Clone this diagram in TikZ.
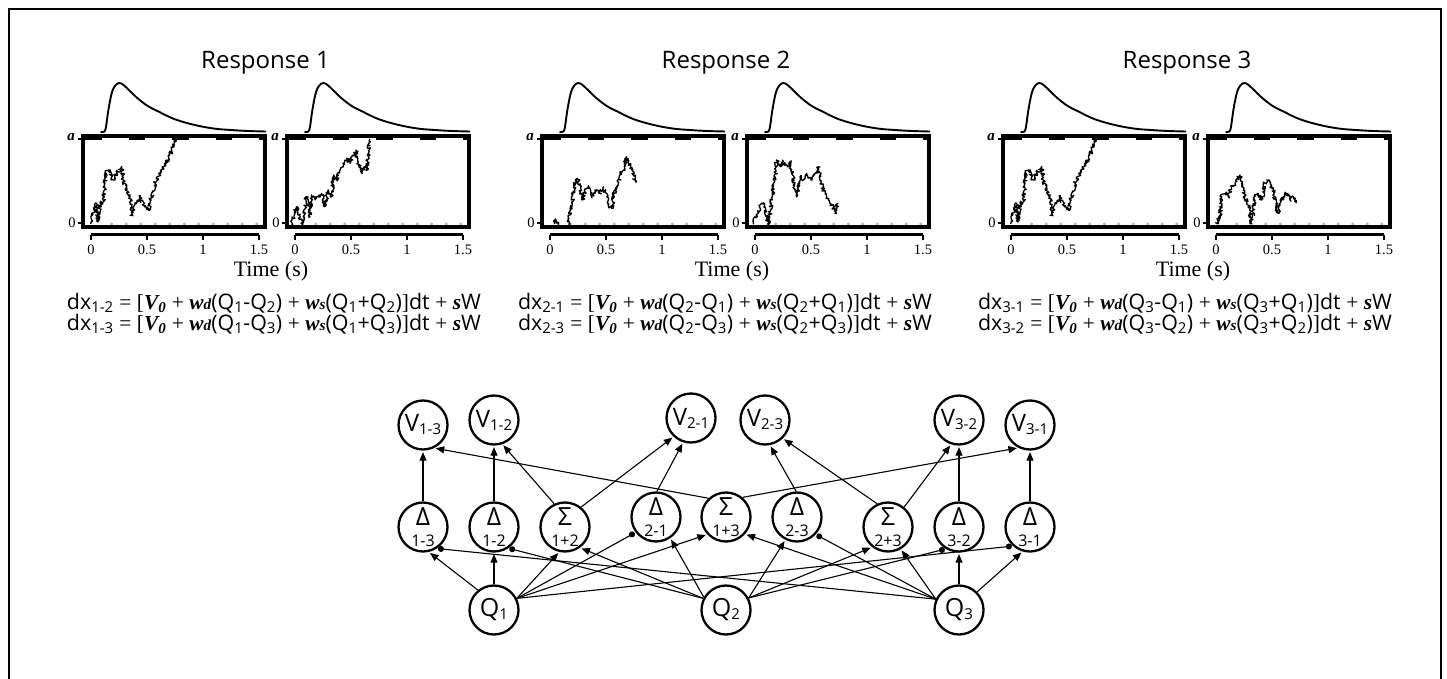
\documentclass[tikz,border=0pt]{standalone}
\usepackage{fontspec}
\usepackage{graphicx}
\setmainfont{Liberation Serif}
\setsansfont{Open Sans}
\usetikzlibrary{arrows.meta,decorations.pathmorphing}

\newcommand\lsub[1]{\textsubscript{#1}}
\newcommand\bi[1]{{\rmfamily\bfseries\itshape #1}}
\newcommand\rs[1]{{\rmfamily #1}}
\newcommand\eqn[2]{\resizebox{414pt}{!}{\sffamily\fontsize{21}{21}\selectfont dx\lsub{#1-#2} \rs{=} \rs{[}\bi{V\lsub{0}} \rs{+} \bi{w{\fontsize{15}{15}\selectfont d}}(Q\lsub{#1}-Q\lsub{#2}) \rs{+} \bi{w{\fontsize{15}{15}\selectfont s}}(Q\lsub{#1}+Q\lsub{#2})\rs{]}dt \rs{+} \bi{s}W}}
\newcommand\vlab[1]{{\fontsize{24}{24}\selectfont V}\raisebox{-3pt}{\fontsize{15}{15}\selectfont #1}}
\newcommand\qlab[1]{{\fontsize{25}{25}\selectfont Q}\raisebox{-2.5pt}{\fontsize{15}{15}\selectfont #1}}
\newcommand\dlab[2]{\vbox{\offinterlineskip\halign{\hfil##\hfil\cr{\fontsize{25}{25}\selectfont #1}\cr\noalign{\kern 10pt}{\fontsize{16}{16}\selectfont #2}\cr}}}

\tikzset{
 box/.style={line width=3.2pt},
 bnd/.style={line width=2.7pt, dash pattern=on 16.7pt off 26.8pt},
 drift/.style={line width=1.9pt, line join=round},
 trace/.style={line width=1.3pt, line join=round, decorate, decoration={random steps,segment length=0.9pt,amplitude=1.9pt}},
 ax/.style={line width=2.4pt},
 tick/.style={font=\rmfamily\fontsize{14.5}{14.5}\selectfont, inner sep=0pt},
 nd/.style={circle, draw, line width=2.3pt, minimum size=49pt, inner sep=0pt, font=\sffamily},
 exc/.style={line width=1.1pt, -{Triangle[length=8.5pt,width=7pt]}, shorten >=1.5pt},
 inh/.style={line width=1.1pt, -{Circle[length=6pt]}, shorten >=1pt},
 eq/.style={inner sep=0pt, anchor=base},
 resp/.style={font=\sffamily\fontsize{24}{24}\selectfont, inner sep=0pt},
 tlab/.style={font=\rmfamily\fontsize{22}{22}\selectfont, inner sep=0pt},
}

% #1 x0, #2 name prefix, #3 trace drawing code
\newcommand\panel[3]{%
\begin{scope}[shift={(#1,135)}]
\draw[drift] plot[smooth,tension=0.6] coordinates {(17.5,-3) (21.4,-3.5) (23.1,-8.9) (25.4,-25.1) (28.7,-41.7) (32,-49.1) (36.3,-52) (41.6,-49.1) (52.8,-38.3) (64,-29.5) (75.2,-23.6) (92,-15.7) (112.2,-9.9) (131.2,-6.4) (148,-5) (164.8,-4) (183,-3.5)};
\foreach \k in {0,...,10} \fill[black!30] ({28.7+14.5*\k},89) circle[radius=1.7pt];
\draw[bnd] (2,4) -- (181,4);
#3
\draw[box] (0,1) rectangle (182,92);
\draw[line width=1.4pt] (-5,4) -- (0,4) (-5,88) -- (0,88);
\node[tick, font=\rmfamily\bfseries\itshape\fontsize{15}{15}\selectfont] (#2a) at (-12,2.5) {a};
\node[tick] (#2z) at (-11,87.5) {0};
\draw[ax] (8,99.5) -- (176,99.5);
\foreach \tx in {8,64,120,176} \draw[line width=1.6pt] (\tx,99.5) -- (\tx,104.5);
\node[tick] (#2t0) at (8,115) {0};
\node[tick] (#2t1) at (64,115) {0.5};
\node[tick] (#2t2) at (120,115) {1};
\node[tick] (#2t3) at (176,115) {1.5};
\end{scope}}

\begin{document}
\begin{tikzpicture}[x=1pt,y=-1pt]
\useasboundingbox (0,0) rectangle (1447,679);
\draw[line width=1.5pt] (9,679) -- (9,9) -- (1441,9) -- (1441,679);

% titles
\node[resp] (r1) at (265.5,63) {Response 1};
\node[resp] (r2) at (726,63) {Response 2};
\node[resp] (r3) at (1187,63) {Response 3};

% panels
\panel{83}{pa}{\pgfmathsetseed{11}\draw[trace] plot coordinates {(7.7,89) (10.3,78) (13,68) (14.7,87) (17,68) (20.3,67) (22.7,38) (25.3,35) (30.3,45) (33.7,38) (38.7,32) (40.3,45) (43.7,55) (47,62) (48.7,80) (52,68) (57,62) (62,72) (65.3,75) (67,68) (72,48) (77,38) (83.7,28) (88.7,15) (92,4)};}
\panel{287}{pb}{\pgfmathsetseed{23}\draw[trace] plot coordinates {(4.7,89) (8,75) (9.7,71.7) (13,81.7) (14.7,89) (16.3,86.7) (19,61.7) (21.3,65) (23,81.7) (24.7,61.7) (29.7,63.3) (34.7,58.3) (38,71.7) (41.3,55) (44.7,61.7) (46.3,41.7) (49.7,45) (53,35) (56.3,31.7) (59.7,23.3) (63,28.3) (66.3,20) (69,15) (71.3,26.7) (74.7,38.3) (78,31.7) (80.3,35) (82.3,5) (83,4)};}
\panel{542}{pc}{\pgfmathsetseed{37}\draw[trace] plot coordinates {(12.5,89) (13.5,84) (15,88) (16.5,90)};
\draw[trace] plot coordinates {(26.3,89) (29.7,68.3) (33,48.3) (35.3,43.3) (38,50) (40.7,65) (43,55) (46.3,51.7) (49.7,61.7) (53,55) (58,58.3) (61.3,51.7) (64.7,61.7) (68,71.7) (69.7,73.3) (73,55) (76.3,50) (78,38.3) (81.3,35) (84.7,21.7) (88,30) (90.7,35) (93,46.7)};}
\panel{747}{pd}{\pgfmathsetseed{41}\draw[trace] plot coordinates {(7,89) (8,81.7) (11.3,78.3) (14.7,68.3) (18,71.7) (19.7,81.7) (21.3,90) (24.7,65) (28,41.7) (29.7,25) (33,31.7) (36.3,26.7) (41.3,31.7) (43,26.7) (46.3,45) (49.7,61.7) (53,41.7) (56.3,45) (59.7,38.3) (64.7,45) (68,38.3) (71.3,31.7) (73,41.7) (76.3,55) (79.7,61.7) (83,68.3) (86.3,71.7) (88,78.3) (89.7,71.7) (91.3,68.3)};}
\panel{1003}{pe}{\pgfmathsetseed{11}\draw[trace] plot coordinates {(7.7,89) (10.3,78) (13,68) (14.7,87) (17,68) (20.3,67) (22.7,38) (25.3,35) (30.3,45) (33.7,38) (38.7,32) (40.3,45) (43.7,55) (47,62) (48.7,80) (52,68) (57,62) (62,72) (65.3,75) (67,68) (72,48) (77,38) (83.7,28) (88.7,15) (92,4)};}
\panel{1208}{pf}{\pgfmathsetseed{53}\draw[trace] plot coordinates {(8.7,89) (10.3,83.3) (12,81.7) (13.7,61.7) (17,58.3) (20.3,61.7) (23.7,51.7) (27,48.3) (30.3,41.7) (32,40) (34.7,51.7) (37,61.7) (40.3,71.7) (43.7,88.3) (45.3,75) (47,61.7) (50.3,58.3) (53.7,65) (57,48.3) (58.7,45) (62,48.3) (65.3,55) (68.7,75) (70.3,78.3) (72,68.3) (75.3,61.7) (78.7,58.3) (82,65) (85.3,61.7) (88,68.3)};}

\node[tlab] (t1) at (271,271) {Time (s)};
\node[tlab] (t2) at (732,271) {Time (s)};
\node[tlab] (t3) at (1193,271) {Time (s)};

% equations
\node[eq] (e12) at (274,309) {\eqn{1}{2}};
\node[eq] (e13) at (274,330) {\eqn{1}{3}};
\node[eq] (e21) at (725,309) {\eqn{2}{1}};
\node[eq] (e23) at (725,330) {\eqn{2}{3}};
\node[eq] (e31) at (1185,309) {\eqn{3}{1}};
\node[eq] (e32) at (1185,330) {\eqn{3}{2}};

% network nodes
\node[nd] (v13) at (423,425) {\vlab{1-3}};
\node[nd] (v12) at (494,420) {\vlab{1-2}};
\node[nd] (v21) at (691,418) {\vlab{2-1}};
\node[nd] (v23) at (765,420) {\vlab{2-3}};
\node[nd] (v32) at (959,420) {\vlab{3-2}};
\node[nd] (v31) at (1030,425) {\vlab{3-1}};
\node[nd] (d13) at (423,527) {\dlab{Δ}{1-3}};
\node[nd] (d12) at (494,527) {\dlab{Δ}{1-2}};
\node[nd] (s12) at (565,527) {\dlab{Σ}{1+2}};
\node[nd] (d21) at (656,517) {\dlab{Δ}{2-1}};
\node[nd] (s13) at (726,517) {\dlab{Σ}{1+3}};
\node[nd] (d23) at (797,517) {\dlab{Δ}{2-3}};
\node[nd] (s23) at (888,527) {\dlab{Σ}{2+3}};
\node[nd] (d32) at (959,527) {\dlab{Δ}{3-2}};
\node[nd] (d31) at (1030,527) {\dlab{Δ}{3-1}};
\node[nd] (q1) at (494,610) {\qlab{1}};
\node[nd] (q2) at (726,610) {\qlab{2}};
\node[nd] (q3) at (959,610) {\qlab{3}};

% upper edges
\draw[exc] (d13.90) -- (v13.-90);
\draw[exc] (d12.90) -- (v12.-90);
\draw[exc] (s12.115) -- (v12.-71);
\draw[exc] (s12.51) -- (v21.-133);
\draw[exc] (d21.88) -- (v21.-108);
\draw[exc] (s13.133) -- (v13.-64);
\draw[exc] (s13.50) -- (v31.-117);
\draw[exc] (d23.92) -- (v23.-79);
\draw[exc] (s23.115) -- (v23.-46);
\draw[exc] (s23.51) -- (v32.-108);
\draw[exc] (d32.90) -- (v32.-90);
\draw[exc] (d31.90) -- (v31.-90);

% lower edges from Q1
\draw[exc] (q1.129) -- (d13.-77);
\draw[exc] (q1.90) -- (d12.-90);
\draw[exc] (q1.27) -- (s12.-103);
\draw[inh] (q1.27) -- (d21.-143);
\draw[exc] (q1.27) -- (s13.-137);
\draw[inh] (q1.27) -- (d31.-132);
% from Q2
\draw[inh] (q2.153) -- (d12.-56);
\draw[exc] (q2.153) -- (s12.-54);
\draw[exc] (q2.150) -- (d21.-56);
\draw[exc] (q2.28) -- (d23.-117);
\draw[exc] (q2.28) -- (s23.-128);
\draw[inh] (q2.28) -- (d32.-121);
% from Q3
\draw[inh] (q3.155) -- (d13.-57);
\draw[exc] (q3.155) -- (s13.-42);
\draw[inh] (q3.155) -- (d23.-43);
\draw[exc] (q3.155) -- (s23.-60);
\draw[exc] (q3.90) -- (d32.-90);
\draw[exc] (q3.45) -- (d31.-107);
\end{tikzpicture}
\end{document}
